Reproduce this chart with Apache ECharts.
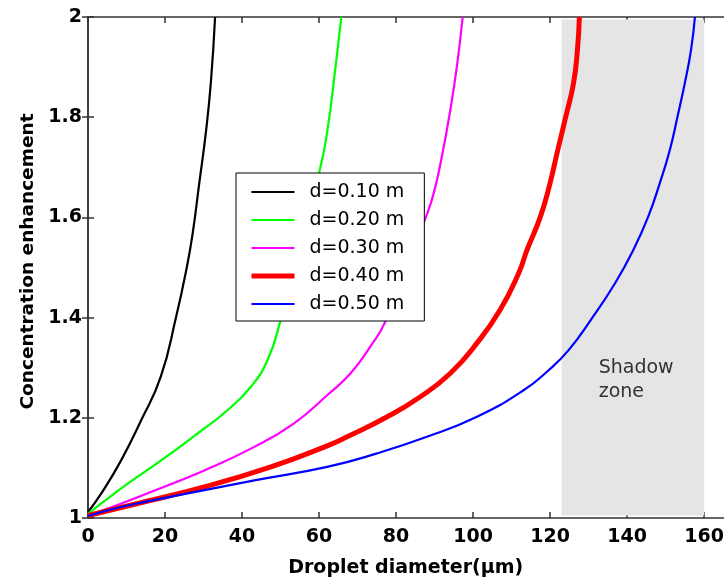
<!DOCTYPE html>
<html>
<head>
<meta charset="utf-8">
<script src="https://cdn.jsdelivr.net/npm/echarts@6/dist/echarts.min.js"></script>
<style>
html, body { margin: 0; padding: 0; background: #fff; }
#chart { width: 727px; height: 583px; }
</style>
</head>
<body>
<div id="chart"></div>
<script>
// ticks
var xTicks = [0, 20, 40, 60, 80, 100, 120, 140, 160];
var names = ['d=0.10 m', 'd=0.20 m', 'd=0.30 m', 'd=0.40 m', 'd=0.50 m'];

// d=0.10 m
var blackX = [0, 3.45, 8.6, 13.8, 18.9, 22.9, 25.7, 27.2, 28.9, 30.6, 31.9, 33.0];
var blackY = [1.012, 1.049, 1.115, 1.195, 1.282, 1.402, 1.502, 1.569, 1.669, 1.769, 1.869, 2.0];
// d=0.20 m (part hidden behind legend)
var greenX = [0, 3.45, 10.4, 19.0, 28.5, 36.2, 42.3, 46.6, 49.9, 60.1, 62.1, 64.3, 65.8];
var greenY = [1.008, 1.029, 1.069, 1.115, 1.169, 1.215, 1.262, 1.315, 1.392, 1.692, 1.77, 1.902, 2.0];
// d=0.30 m
var magX = [0, 5.2, 17.3, 30.2, 43.2, 53.5, 62.1, 68.2, 73.3, 77.2, 87.8, 89.8, 91.9, 94.1, 95.8, 97.3];
var magY = [1.006, 1.019, 1.055, 1.095, 1.142, 1.189, 1.245, 1.289, 1.342, 1.392, 1.602, 1.649, 1.722, 1.815, 1.902, 2.0];
// d=0.40 m
var redX = [0, 12.9, 30.2, 47.5, 62.1, 67.3, 77.7, 86.3, 94.1, 101.0, 107.0, 111.8, 114.0, 117.5, 120.0, 122.0, 124.1, 126.1, 127.1, 127.6];
var redY = [1.005, 1.029, 1.062, 1.102, 1.144, 1.162, 1.202, 1.242, 1.289, 1.349, 1.415, 1.488, 1.535, 1.602, 1.669, 1.735, 1.802, 1.869, 1.935, 2.0];
// d=0.50 m
var blueX = [0, 8.6, 25.9, 43.2, 62.1, 75.1, 88.0, 101.0, 113.1, 119.6, 124.8, 130.8, 136.9, 141.6, 145.5, 148.5, 151.1, 153.1, 155.0, 156.6, 157.6];
var blueY = [1.004, 1.022, 1.049, 1.075, 1.102, 1.129, 1.162, 1.202, 1.255, 1.295, 1.335, 1.398, 1.469, 1.535, 1.602, 1.669, 1.735, 1.802, 1.869, 1.935, 2.0];

// shadow zone: x from, x to, y from, y to
var shadowZone = [123, 160, 1.005, 1.995];

function pairs(xs, ys) {
    var out = [];
    for (var i = 0; i < xs.length; i++) out.push([xs[i], ys[i]]);
    return out;
}

var axisCol = '#333';
var tickFont = { fontFamily: 'DejaVu Sans', fontWeight: 'bold', fontSize: 19, color: '#000' };

function lineSeries(name, xs, ys, color, width) {
    return {
        name: name,
        type: 'line',
        data: pairs(xs, ys),
        symbol: 'none',
        smooth: 0.5,
        z: 3,
        lineStyle: { color: color, width: width },
        itemStyle: { color: color }
    };
}

var chart = echarts.init(document.getElementById('chart'));
chart.setOption({
    backgroundColor: '#fff',
    animation: false,
    grid: { left: 88, top: 17, right: 2, bottom: 65 },
    legend: {
        data: names,
        orient: 'vertical',
        left: 236,
        top: 173,
        padding: [9, 20, 7, 13],
        itemWidth: 43,
        itemHeight: 14,
        itemGap: 8,
        backgroundColor: '#fff',
        borderColor: '#000',
        borderWidth: 1,
        borderRadius: 0,
        itemStyle: { opacity: 0 },
        lineStyle: { width: 'inherit' },
        textStyle: { fontFamily: 'DejaVu Sans', fontSize: 19, color: '#000', lineHeight: 20, padding: [0, 0, 0, 10] }
    },
    xAxis: [{
        type: 'value', min: 0, max: 165,
        name: 'Droplet diameter(μm)', nameLocation: 'middle', nameGap: 41,
        nameTextStyle: tickFont,
        axisLine: { lineStyle: { color: axisCol, width: 1.5 } },
        axisTick: { inside: true, length: 6, customValues: xTicks, lineStyle: { color: axisCol, width: 1.5 } },
        axisLabel: Object.assign({ margin: 10, customValues: xTicks }, tickFont),
        splitLine: { show: false }
    }, {
        type: 'value', min: 0, max: 165, position: 'top',
        axisLine: { lineStyle: { color: axisCol, width: 1.5 } },
        axisTick: { inside: true, length: 6, customValues: xTicks, lineStyle: { color: axisCol, width: 1.5 } },
        axisLabel: { show: false },
        splitLine: { show: false }
    }],
    yAxis: [{
        type: 'value', min: 1, max: 2, interval: 0.2,
        name: 'Concentration enhancement', nameLocation: 'middle', nameGap: 50,
        nameTextStyle: { fontFamily: 'DejaVu Sans', fontWeight: 'bold', fontSize: 18.5, color: '#000', padding: [0, 0, 0, 12] },
        axisLine: { show: true, lineStyle: { color: axisCol, width: 1.5 } },
        axisTick: { show: true, inside: true, length: 6, lineStyle: { color: axisCol, width: 1.5 } },
        axisLabel: Object.assign({ margin: 6 }, tickFont),
        splitLine: { show: false }
    }, {
        type: 'value', min: 1, max: 2, interval: 0.2, position: 'right',
        axisLine: { show: true, lineStyle: { color: axisCol, width: 1.5 } },
        axisTick: { show: true, inside: true, length: 6, lineStyle: { color: axisCol, width: 1.5 } },
        axisLabel: { show: false },
        splitLine: { show: false }
    }],
    series: [
        {
            name: 'shadow',
            type: 'line',
            data: [],
            z: 1,
            markArea: {
                silent: true,
                itemStyle: { color: '#e5e5e5' },
                label: {
                    show: true,
                    formatter: 'Shadow\nzone',
                    position: [37, 337],
                    align: 'left',
                    verticalAlign: 'top',
                    fontFamily: 'DejaVu Sans',
                    fontSize: 19,
                    lineHeight: 24,
                    color: '#333'
                },
                data: [[
                    { xAxis: shadowZone[0], yAxis: shadowZone[2] },
                    { xAxis: shadowZone[1], yAxis: shadowZone[3] }
                ]]
            }
        },
        lineSeries(names[0], blackX, blackY, '#000000', 2.2),
        lineSeries(names[1], greenX, greenY, '#00ff00', 2.2),
        lineSeries(names[2], magX, magY, '#ff00ff', 2.2),
        lineSeries(names[3], redX, redY, '#ff0000', 5),
        lineSeries(names[4], blueX, blueY, '#0000ff', 2.2)
    ]
});
</script>
</body>
</html>
